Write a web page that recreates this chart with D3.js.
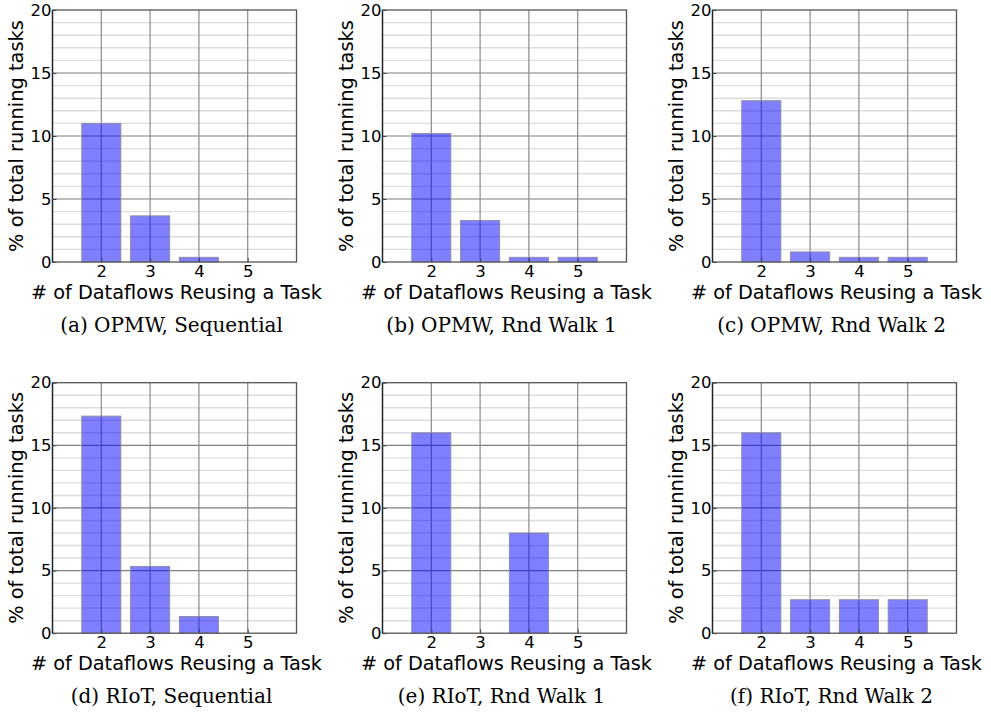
<!DOCTYPE html>
<html>
<head>
<meta charset="utf-8">
<script src="https://cdn.jsdelivr.net/npm/d3@7"></script>
<style>
  body { margin: 0; background: #fff; }
  svg text { fill: #000; }
</style>
</head>
<body>
<svg id="chart" width="991" height="717"></svg>
<script>
// categories on the x axis (number of dataflows reusing a task)
var categories = [2, 3, 4, 5]
var yTicks = [0, 5, 10, 15, 20]

// % of total running tasks, one array per panel
var opmwSequential = [11.0, 3.66, 0.37, 0]
var opmwRndWalk1 = [10.2, 3.3, 0.37, 0.37]
var opmwRndWalk2 = [12.8, 0.8, 0.37, 0.37]
var riotSequential = [17.33, 5.33, 1.33, 0]
var riotRndWalk1 = [16.0, 0, 8.0, 0]
var riotRndWalk2 = [16.0, 2.67, 2.67, 2.67]

var captions = ["(a) OPMW, Sequential", "(b) OPMW, Rnd Walk 1", "(c) OPMW, Rnd Walk 2",
                "(d) RIoT, Sequential", "(e) RIoT, Rnd Walk 1", "(f) RIoT, Rnd Walk 2"]
var panelData = [opmwSequential, opmwRndWalk1, opmwRndWalk2,
                 riotSequential, riotRndWalk1, riotRndWalk2]

var svg = d3.select("#chart")
var w = 244
var colStep = 330
var rowTops = [10, 382.7]
var rowHeights = [252, 250.5]

panelData.forEach(function(vals, i) {
  var col = i % 3, row = Math.floor(i / 3)
  var h = rowHeights[row]
  var g = svg.append("g")
    .attr("transform", "translate(" + (52.5 + col * colStep) + "," + rowTops[row] + ")")

  var x = d3.scaleLinear().domain([1, 6]).range([0, w])
  var y = d3.scaleLinear().domain([0, 20]).range([h, 0])

  // minor grid every 1 unit
  g.selectAll(".minor")
    .data(d3.range(1, 20).filter(function(d) { return d % 5 !== 0 }))
    .enter().append("line")
    .attr("x1", 0).attr("x2", w)
    .attr("y1", function(d) { return y(d) }).attr("y2", function(d) { return y(d) })
    .attr("stroke", "#dcdcdc").attr("stroke-width", 1.4)

  // major grid
  g.selectAll(".majorY")
    .data(yTicks.slice(1, 4))
    .enter().append("line")
    .attr("x1", 0).attr("x2", w)
    .attr("y1", function(d) { return y(d) }).attr("y2", function(d) { return y(d) })
    .attr("stroke", "#7f7f7f").attr("stroke-width", 1.2)
  g.selectAll(".majorX")
    .data(categories)
    .enter().append("line")
    .attr("y1", 0).attr("y2", h)
    .attr("x1", function(d) { return x(d) }).attr("x2", function(d) { return x(d) })
    .attr("stroke", "#8a8a8a").attr("stroke-width", 1.2)

  // bars
  g.selectAll(".bar")
    .data(vals)
    .enter().append("rect")
    .attr("x", function(d, k) { return x(categories[k] - 0.4) })
    .attr("width", x(1.8) - x(1))
    .attr("y", function(d) { return y(d) })
    .attr("height", function(d) { return h - y(d) })
    .attr("fill", "rgba(0,0,255,0.5)")
    .attr("stroke", function(d) { return d > 0 ? "#8c8ca8" : "none" })
    .attr("stroke-width", 1)

  // frame
  g.append("rect")
    .attr("x", 0).attr("y", 0).attr("width", w).attr("height", h)
    .attr("fill", "none").attr("stroke", "#555").attr("stroke-width", 1.3)
  g.append("line")
    .attr("x1", 0).attr("x2", 0).attr("y1", 0).attr("y2", h)
    .attr("stroke", "#222").attr("stroke-width", 1.3)

  // axes (labels only, ticks inward)
  var yAxis = d3.axisLeft(y).tickValues(yTicks).tickSize(-4).tickPadding(1).tickFormat(d3.format("d"))
  var yg = g.append("g").call(yAxis)
  var xAxis = d3.axisBottom(x).tickValues(categories).tickSize(-4).tickPadding(3).tickFormat(d3.format("d"))
  var xg = g.append("g").attr("transform", "translate(0," + h + ")").call(xAxis)
  ;[yg, xg].forEach(function(a) {
    a.select(".domain").remove()
    a.selectAll(".tick line").attr("stroke", "#444")
    a.selectAll("text").attr("font-family", "DejaVu Sans").attr("font-size", 16.5)
  })

  g.append("text")
    .attr("x", w / 2 + 2).attr("y", h + 37)
    .attr("text-anchor", "middle")
    .attr("font-family", "DejaVu Sans").attr("font-size", 19.3)
    .text("# of Dataflows Reusing a Task")
  g.append("text")
    .attr("transform", "translate(-30," + (h / 2) + ") rotate(-90)")
    .attr("text-anchor", "middle")
    .attr("font-family", "DejaVu Sans").attr("font-size", 19.4)
    .text("% of total running tasks")

  g.append("text")
    .attr("x", w / 2 - 3).attr("y", h + 70)
    .attr("text-anchor", "middle")
    .attr("font-family", "DejaVu Serif").attr("font-size", 20)
    .text(captions[i])
})
</script>
</body>
</html>
